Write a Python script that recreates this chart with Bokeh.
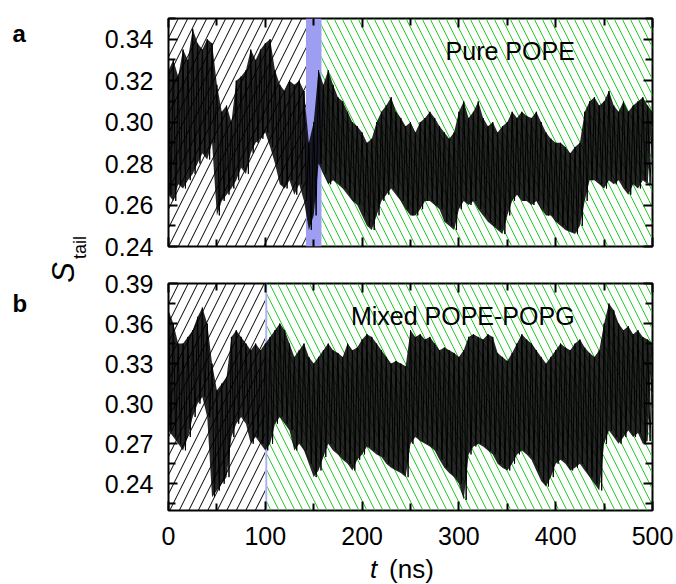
import math
from bokeh.plotting import figure
from bokeh.layouts import column, row
from bokeh.models import (Range1d, LinearAxis, FixedTicker, Label, NumeralTickFormatter,
                          CustomJSTickFormatter)
from bokeh.embed import file_html
from bokeh.resources import INLINE

# ---------------- data ----------------
t_grid = list(range(0, 500, 5))

pope_hi = [0.325, 0.330, 0.322, 0.335, 0.330, 0.345, 0.338, 0.335, 0.340, 0.338,
           0.318, 0.305, 0.308, 0.300, 0.320, 0.322, 0.325, 0.335, 0.330, 0.335,
           0.338, 0.340, 0.325, 0.318, 0.315, 0.320, 0.318, 0.320, 0.315, 0.290,
           0.300, 0.325, 0.318, 0.325, 0.318, 0.312, 0.310, 0.305, 0.300, 0.298,
           0.295, 0.290, 0.292, 0.300, 0.305, 0.308, 0.312, 0.305, 0.302, 0.298,
           0.300, 0.295, 0.300, 0.302, 0.305, 0.302, 0.298, 0.295, 0.292, 0.295,
           0.305, 0.310, 0.302, 0.305, 0.310, 0.302, 0.298, 0.300, 0.295, 0.298,
           0.300, 0.305, 0.302, 0.305, 0.303, 0.302, 0.305, 0.300, 0.295, 0.292,
           0.290, 0.290, 0.288, 0.285, 0.288, 0.290, 0.305, 0.310, 0.312, 0.308,
           0.310, 0.315, 0.308, 0.305, 0.310, 0.305, 0.308, 0.310, 0.312, 0.308]
pope_lo = [0.265, 0.262, 0.270, 0.268, 0.272, 0.275, 0.280, 0.285, 0.282, 0.290,
           0.255, 0.262, 0.265, 0.268, 0.272, 0.278, 0.275, 0.285, 0.290, 0.292,
           0.295, 0.288, 0.280, 0.270, 0.268, 0.272, 0.265, 0.270, 0.262, 0.248,
           0.255, 0.280, 0.275, 0.270, 0.272, 0.270, 0.268, 0.265, 0.262, 0.260,
           0.255, 0.250, 0.248, 0.255, 0.262, 0.265, 0.268, 0.265, 0.262, 0.258,
           0.255, 0.255, 0.258, 0.262, 0.262, 0.260, 0.258, 0.252, 0.250, 0.248,
           0.258, 0.262, 0.260, 0.262, 0.258, 0.255, 0.252, 0.250, 0.248, 0.246,
           0.255, 0.262, 0.265, 0.262, 0.262, 0.260, 0.262, 0.258, 0.255, 0.255,
           0.252, 0.250, 0.248, 0.247, 0.246, 0.250, 0.262, 0.272, 0.272, 0.270,
           0.268, 0.272, 0.270, 0.272, 0.268, 0.265, 0.270, 0.268, 0.272, 0.270]
pope_end = 0.305

mix_hi = [0.370, 0.360, 0.345, 0.345, 0.350, 0.355, 0.365, 0.372, 0.360, 0.330,
          0.310, 0.315, 0.320, 0.350, 0.355, 0.350, 0.345, 0.340, 0.345, 0.340,
          0.345, 0.350, 0.355, 0.360, 0.355, 0.345, 0.335, 0.340, 0.345, 0.335,
          0.330, 0.335, 0.340, 0.345, 0.340, 0.338, 0.335, 0.345, 0.340, 0.342,
          0.348, 0.352, 0.350, 0.345, 0.340, 0.335, 0.330, 0.332, 0.330, 0.328,
          0.355, 0.350, 0.352, 0.348, 0.350, 0.345, 0.340, 0.342, 0.340, 0.338,
          0.335, 0.340, 0.350, 0.352, 0.350, 0.348, 0.352, 0.350, 0.338, 0.335,
          0.332, 0.338, 0.345, 0.352, 0.348, 0.345, 0.340, 0.335, 0.330, 0.335,
          0.340, 0.345, 0.342, 0.340, 0.345, 0.348, 0.342, 0.338, 0.335, 0.340,
          0.360, 0.375, 0.370, 0.360, 0.355, 0.358, 0.352, 0.355, 0.350, 0.348]
mix_lo = [0.280, 0.275, 0.270, 0.265, 0.275, 0.290, 0.300, 0.305, 0.290, 0.230,
          0.235, 0.240, 0.245, 0.275, 0.285, 0.290, 0.285, 0.270, 0.275, 0.270,
          0.265, 0.270, 0.285, 0.290, 0.285, 0.280, 0.265, 0.270, 0.265, 0.255,
          0.245, 0.250, 0.260, 0.270, 0.265, 0.262, 0.258, 0.255, 0.250, 0.258,
          0.262, 0.268, 0.265, 0.262, 0.260, 0.255, 0.252, 0.250, 0.248, 0.245,
          0.270, 0.275, 0.272, 0.270, 0.268, 0.265, 0.258, 0.252, 0.248, 0.245,
          0.240, 0.228, 0.262, 0.268, 0.270, 0.268, 0.265, 0.262, 0.255, 0.252,
          0.250, 0.255, 0.262, 0.265, 0.262, 0.258, 0.250, 0.242, 0.238, 0.245,
          0.255, 0.258, 0.255, 0.250, 0.252, 0.255, 0.250, 0.245, 0.240, 0.235,
          0.270, 0.280, 0.275, 0.270, 0.275, 0.280, 0.275, 0.278, 0.270, 0.272]
mix_end = 0.345

# phases (ns): equilibration / transition / production
pope_phase = [0, 142, 158, 500]
mix_phase = [0, 100, 102, 500]

x_ticks_major = [0, 100, 200, 300, 400, 500]
x_ticks_minor = [50, 150, 250, 350, 450]
pope_yticks = [0.24, 0.26, 0.28, 0.30, 0.32, 0.34]
pope_yminor = [0.25, 0.27, 0.29, 0.31, 0.33, 0.35]
mix_yticks = [0.24, 0.27, 0.30, 0.33, 0.36, 0.39]
mix_yminor = [0.225, 0.255, 0.285, 0.315, 0.345, 0.375]

FONT = "Liberation Sans"
BLUE = "#9d9df2"
BLUE2 = "#aeb2f5"
GREEN = "#1fd11f"

SIDE_W = 96          # left strip holding panel letters and y title
TOTAL_W = 676
TOTAL_H = 583
PW = TOTAL_W - SIDE_W
FRAME_L = 72          # border left inside panel figures -> frame at x=168
FRAME_W = 484
FRAME_X0 = SIDE_W + FRAME_L   # page x of the plot frames' left edge


def zigzag(hi, lo, end):
    xs, ys = [], []
    for t, h, l in zip(t_grid, hi, lo):
        xs += [t, t + 2.5]
        ys += [h, l]
    xs.append(500)
    ys.append(end)
    return xs, ys


def blank_fig(w, h):
    f = figure(width=w, height=h, output_backend="svg", toolbar_location=None,
               x_range=Range1d(0, 1), y_range=Range1d(0, 1), min_border=0,
               x_axis_location=None, y_axis_location=None)
    f.grid.visible = False
    f.outline_line_color = None
    f.background_fill_color = "white"
    f.border_fill_color = "white"
    return f


def make_panel(height, b_top, b_bottom, yr, yticks, yminor, phase, hi, lo, end,
               band_color, label_text, label_pos, xlabels):
    p = figure(width=PW, height=height, output_backend="svg", toolbar_location=None,
               x_range=Range1d(0, 500), y_range=Range1d(*yr),
               min_border_left=FRAME_L, min_border_right=PW - FRAME_L - FRAME_W,
               min_border_top=b_top, min_border_bottom=b_bottom,
               x_axis_location=None, y_axis_location=None)
    p.grid.visible = False
    p.outline_line_color = "black"
    p.outline_line_width = 2
    p.background_fill_color = "white"
    p.border_fill_color = "white"

    # regions
    p.quad(left=[phase[0]], right=[phase[1]], bottom=[yr[0]], top=[yr[1]],
           fill_alpha=0, line_alpha=0, hatch_pattern="/", hatch_color="black",
           hatch_scale=19, hatch_weight=1)
    p.quad(left=[phase[1]], right=[phase[2]], bottom=[yr[0]], top=[yr[1]],
           fill_color=band_color, line_alpha=0)
    p.quad(left=[phase[2]], right=[phase[3]], bottom=[yr[0]], top=[yr[1]],
           fill_alpha=0, line_alpha=0, hatch_pattern="\\", hatch_color=GREEN,
           hatch_scale=16, hatch_weight=1)

    # trace: dense fluctuating signal
    p.varea(x=t_grid + [500], y1=lo + [end], y2=hi + [end],
            fill_color="black", fill_alpha=0.85)
    xs, ys = zigzag(hi, lo, end)
    p.line(xs, ys, line_color="black", line_width=1.0)

    p.add_layout(Label(x=label_pos[0], y=label_pos[1], text=label_text, text_align="center",
                       text_baseline="middle", text_font=FONT, text_font_size="25px",
                       text_color="black"))

    # axes (ticks inward, on all four sides)
    for loc in ["left", "right", "below", "above"]:
        if loc in ("left", "right"):
            ax = LinearAxis(ticker=FixedTicker(ticks=yticks, minor_ticks=yminor))
        else:
            ax = LinearAxis(ticker=FixedTicker(ticks=x_ticks_major, minor_ticks=x_ticks_minor))
        ax.axis_line_color = None
        ax.major_tick_out = 0
        ax.minor_tick_out = 0
        ax.major_tick_in = 9
        ax.minor_tick_in = 7
        ax.major_tick_line_width = 2
        ax.minor_tick_line_width = 2
        ax.major_label_text_font = FONT
        ax.major_label_text_font_size = "25px"
        ax.major_label_text_color = "black"
        if loc == "left":
            ax.formatter = NumeralTickFormatter(format="0.00")
            ax.major_label_standoff = 15
        elif loc == "below" and xlabels:
            ax.major_label_standoff = 16
        else:
            ax.formatter = CustomJSTickFormatter(code="return ''")
            ax.major_label_text_font_size = "1px"
            ax.major_label_standoff = 0
        p.add_layout(ax, loc)
    return p


H1 = 266
H2 = 288
H3 = TOTAL_H - H1 - H2
p1 = make_panel(H1, 18, H1 - 18 - 228, (0.24, 0.35), pope_yticks, pope_yminor, pope_phase,
                pope_hi, pope_lo, pope_end, BLUE, "Pure POPE", (353, 0.3345), False)
p2 = make_panel(H2, 283 - H1, H2 - (283 - H1) - 227, (0.22, 0.39), mix_yticks, mix_yminor,
                mix_phase, mix_hi, mix_lo, mix_end, BLUE2, "Mixed POPE-POPG",
                (304, 0.3653), True)

# left strip: panel letters and the shared y title
side = blank_fig(SIDE_W, TOTAL_H)
side.add_layout(Label(x=12, y=TOTAL_H - 33, x_units="screen", y_units="screen", text="a",
                      text_font=FONT, text_font_size="24px", text_font_style="bold",
                      text_color="black", text_baseline="alphabetic", text_align="left"))
side.add_layout(Label(x=12, y=TOTAL_H - 303, x_units="screen", y_units="screen", text="b",
                      text_font=FONT, text_font_size="24px", text_font_style="bold",
                      text_color="black", text_baseline="alphabetic", text_align="left"))
side.add_layout(Label(x=63, y=TOTAL_H - 272, x_units="screen", y_units="screen", text="S",
                      text_font=FONT, text_font_size="31px", text_font_style="italic",
                      text_color="black", angle=math.pi / 2, text_baseline="middle",
                      text_align="center"))
side.add_layout(Label(x=79, y=TOTAL_H - 247, x_units="screen", y_units="screen", text="tail",
                      text_font=FONT, text_font_size="18px", text_color="black",
                      angle=math.pi / 2, text_baseline="middle", text_align="center"))

# bottom strip: x title (its frame is aligned with the panel frames in the column)
bottom = blank_fig(PW, H3)
bottom.add_layout(Label(x=373 - FRAME_X0, y=TOTAL_H - 568, x_units="screen", y_units="screen",
                        text="t", text_font=FONT, text_font_size="26px",
                        text_font_style="italic", text_color="black",
                        text_baseline="middle", text_align="center"))
bottom.add_layout(Label(x=411 - FRAME_X0, y=TOTAL_H - 568, x_units="screen", y_units="screen",
                        text="(ns)", text_font=FONT, text_font_size="26px",
                        text_color="black", text_baseline="middle", text_align="center"))

layout = row(side, column(p1, p2, bottom, spacing=0), spacing=0)
open("out.html", "w").write(file_html(layout, INLINE))
